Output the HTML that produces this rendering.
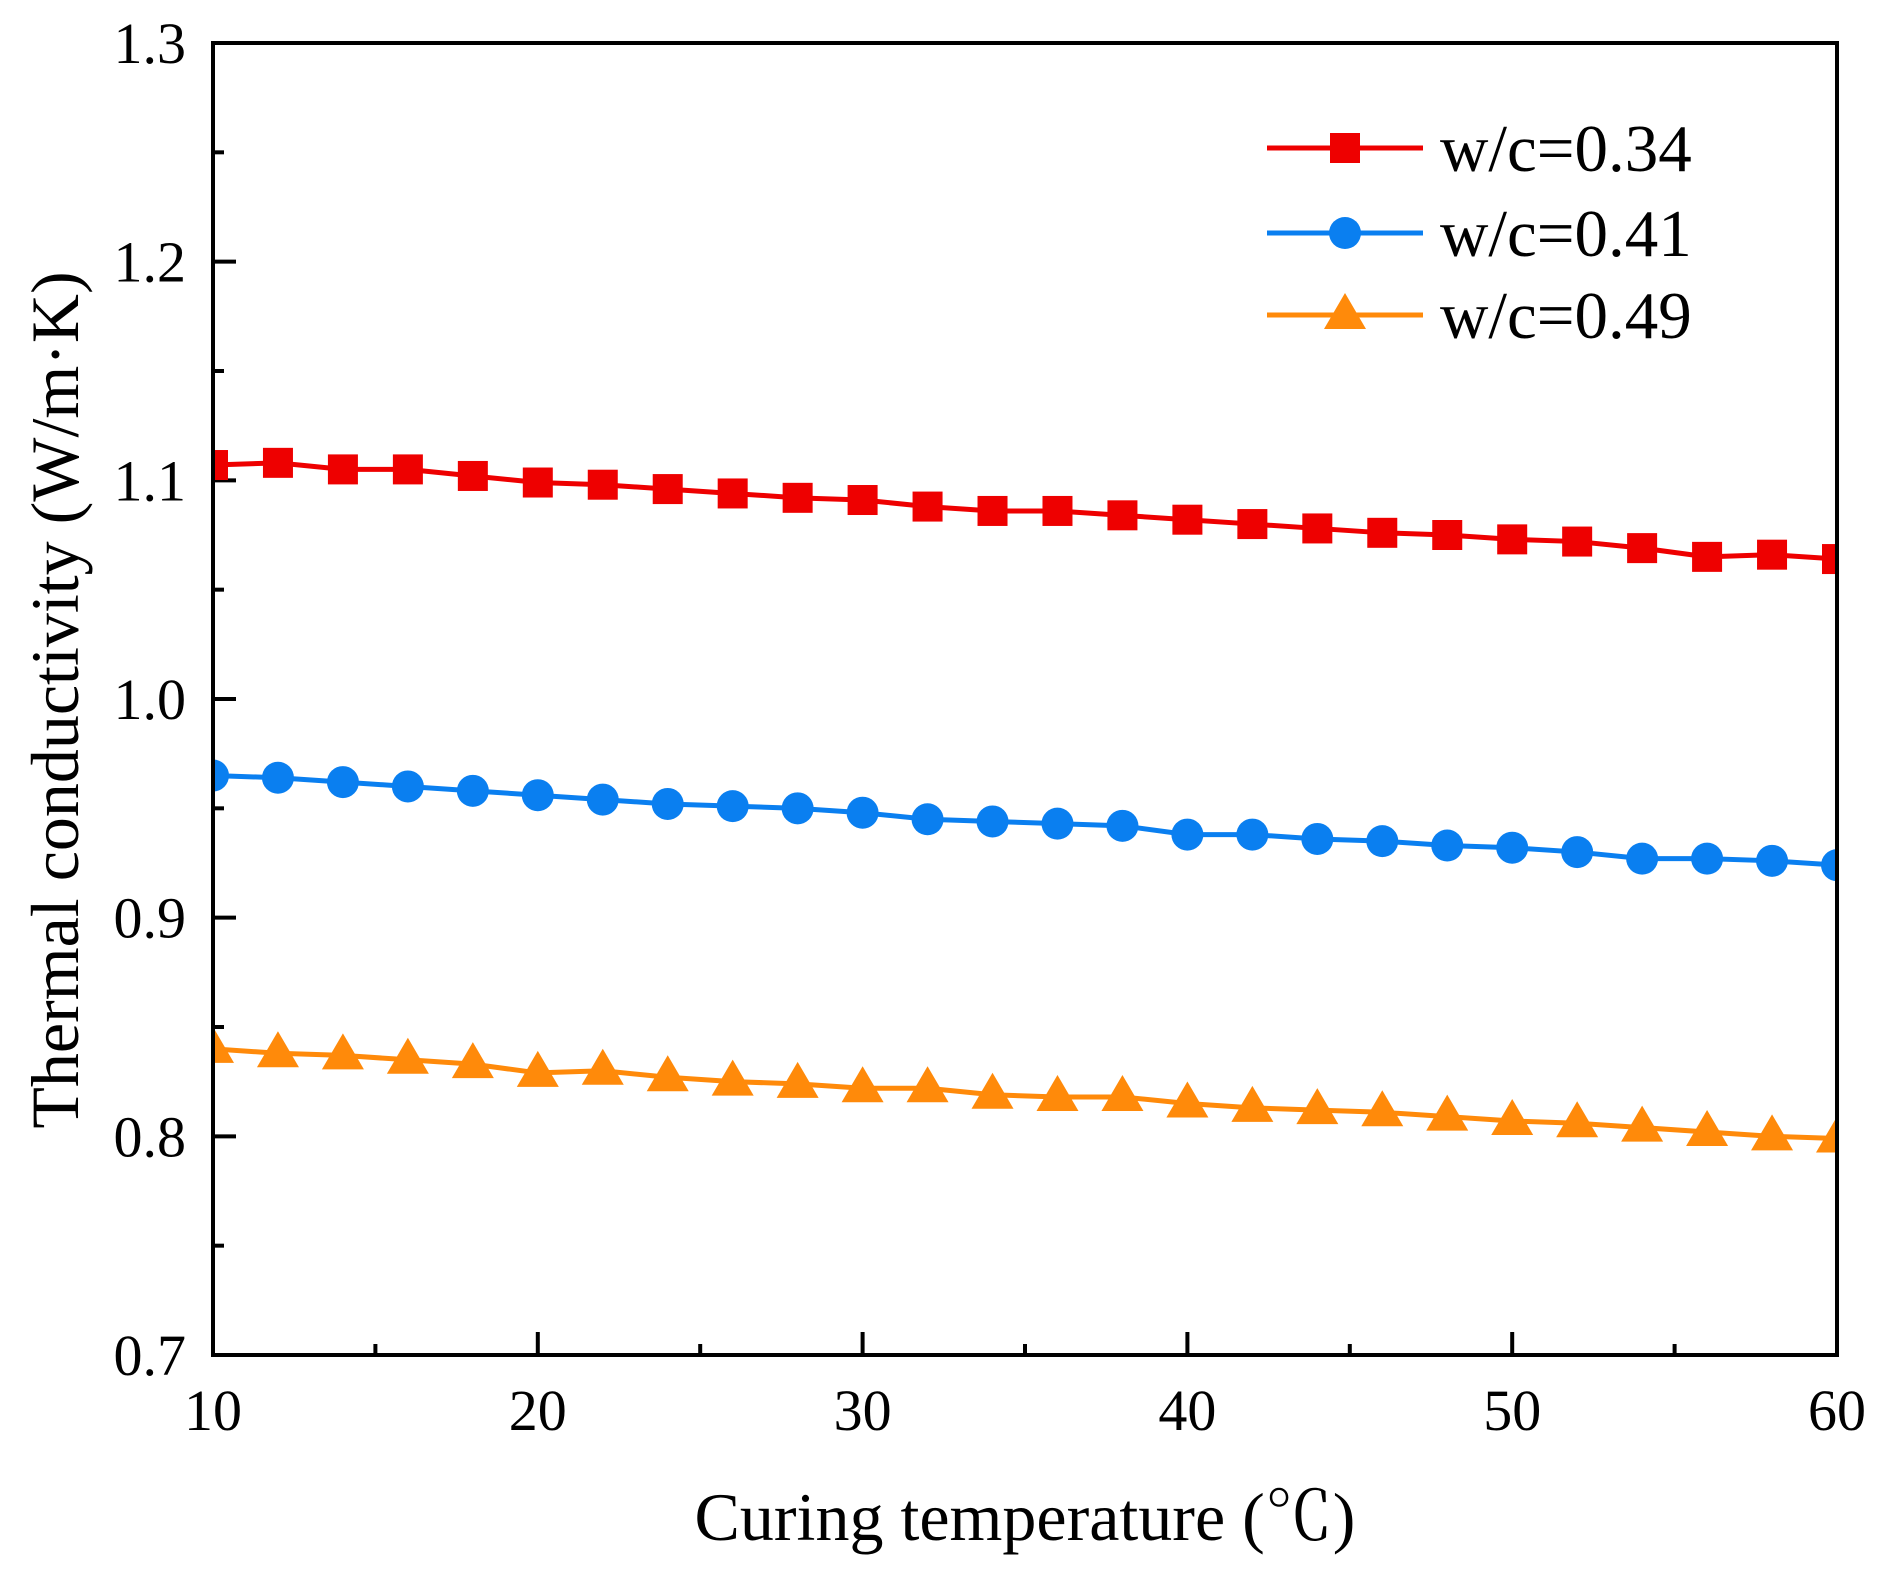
<!DOCTYPE html>
<html><head><meta charset="utf-8"><style>
html,body{margin:0;padding:0;background:#fff;}
svg{display:block;font-family:"Liberation Serif","Noto Serif CJK SC",serif;}
</style></head><body>
<svg id="chart" width="1880" height="1570" viewBox="0 0 1880 1570" xmlns="http://www.w3.org/2000/svg">
<g id="plot"></g>
</svg>
<script>
const temps=[10,12,14,16,18,20,22,24,26,28,30,32,34,36,38,40,42,44,46,48,50,52,54,56,58,60];
const wc034=[1.107,1.108,1.105,1.105,1.102,1.099,1.098,1.096,1.094,1.092,1.091,1.088,1.086,1.086,1.084,1.082,1.080,1.078,1.076,1.075,1.073,1.072,1.069,1.065,1.066,1.064];
const wc041=[0.965,0.964,0.962,0.960,0.958,0.956,0.954,0.952,0.951,0.950,0.948,0.945,0.944,0.943,0.942,0.938,0.938,0.936,0.935,0.933,0.932,0.930,0.927,0.927,0.926,0.924];
const wc049=[0.840,0.838,0.837,0.835,0.833,0.829,0.830,0.827,0.825,0.824,0.822,0.822,0.819,0.818,0.818,0.815,0.813,0.812,0.811,0.809,0.807,0.806,0.804,0.802,0.800,0.799];
const xTicks=[10,20,30,40,50,60];
const yTicks=[0.7,0.8,0.9,1.0,1.1,1.2,1.3];
const legendLabels=["w/c=0.34","w/c=0.41","w/c=0.49"];

const NS="http://www.w3.org/2000/svg";
const L=213,R=1837,T=43,B=1355;
const xs=v=>L+(v-10)/50*(R-L);
const ys=v=>B-(v-0.7)/0.6*(B-T);
const g=document.getElementById('plot');
function mk(tag,attrs,parent){const e=document.createElementNS(NS,tag);for(const k in attrs)e.setAttribute(k,attrs[k]);(parent||g).appendChild(e);return e;}

for(let v=10;v<=60;v+=5){const major=v%10===0;const t=mk('line',{x1:xs(v),x2:xs(v),y1:B,y2:B-(major?23:11),stroke:'#000','stroke-width':4});

}
for(let i=0;i<=12;i++){const v=0.7+i*0.05;const major=i%2===0;const t=mk('line',{x1:L,x2:L+(major?23:11),y1:ys(v),y2:ys(v),stroke:'#000','stroke-width':4});

}
xTicks.forEach(v=>{const t=mk('text',{x:xs(v),y:1430,'text-anchor':'middle','font-size':58,fill:'#000'});t.textContent=v;

});
yTicks.forEach(v=>{const t=mk('text',{x:186,y:ys(v)+20,'text-anchor':'end','font-size':58,fill:'#000'});t.textContent=v.toFixed(1);

});

function marker(type,cx,cy,color,parent){
 let e;
 if(type==='sq') e=mk('rect',{x:cx-15,y:cy-15,width:30,height:30,fill:color},parent);
 else if(type==='ci') e=mk('circle',{cx:cx,cy:cy,r:16,fill:color},parent);
 else e=mk('polygon',{points:`${cx},${cy-22} ${cx-21},${cy+14} ${cx+21},${cy+14}`,fill:color},parent);
 return e;
}
const series=[[wc034,'#ee0000','sq','series-wc-0-34'],[wc041,'#0a7ff0','ci','series-wc-0-41'],[wc049,'#ff8a0a','tr','series-wc-0-49']];
const clip=mk('clipPath',{id:'pc'});mk('rect',{x:L,y:T-30,width:R-L,height:B-T+60},clip);
series.forEach(([vals,col,type,name])=>{
 const sg=mk('g',{'clip-path':'url(#pc)'});
 
 
 const l=mk('polyline',{points:temps.map((t,i)=>xs(t)+','+ys(vals[i])).join(' '),fill:'none',stroke:col,'stroke-width':5},sg);
 
 
 temps.forEach((t,i)=>{const m=marker(type,xs(t),ys(vals[i]),col,sg);
 
 });
});
const fr=mk('rect',{x:L,y:T,width:R-L,height:B-T,fill:'none',stroke:'#000','stroke-width':4});



const lg=mk('g',{});


const ly=[148,233,315];
series.forEach(([vals,col,type,name],i)=>{
 const eg=mk('g',{},lg);
 
 
 mk('line',{x1:1267,x2:1423,y1:ly[i],y2:ly[i],stroke:col,'stroke-width':5},eg);
 marker(type,1345,ly[i],col,eg);
 const t=mk('text',{x:1440,y:ly[i]+23,'font-size':67,fill:'#000'},eg);t.textContent=legendLabels[i];
});

const xt=mk('text',{x:1025,y:1540,'text-anchor':'middle','font-size':68,fill:'#000'});
xt.textContent='Curing temperature (℃)';


const yt=mk('text',{x:0,y:0,'text-anchor':'middle','font-size':68,fill:'#000',transform:'translate(78,700) rotate(-90)'});
yt.textContent='Thermal conductivity (W/m·K)';


</script>
</body></html>
